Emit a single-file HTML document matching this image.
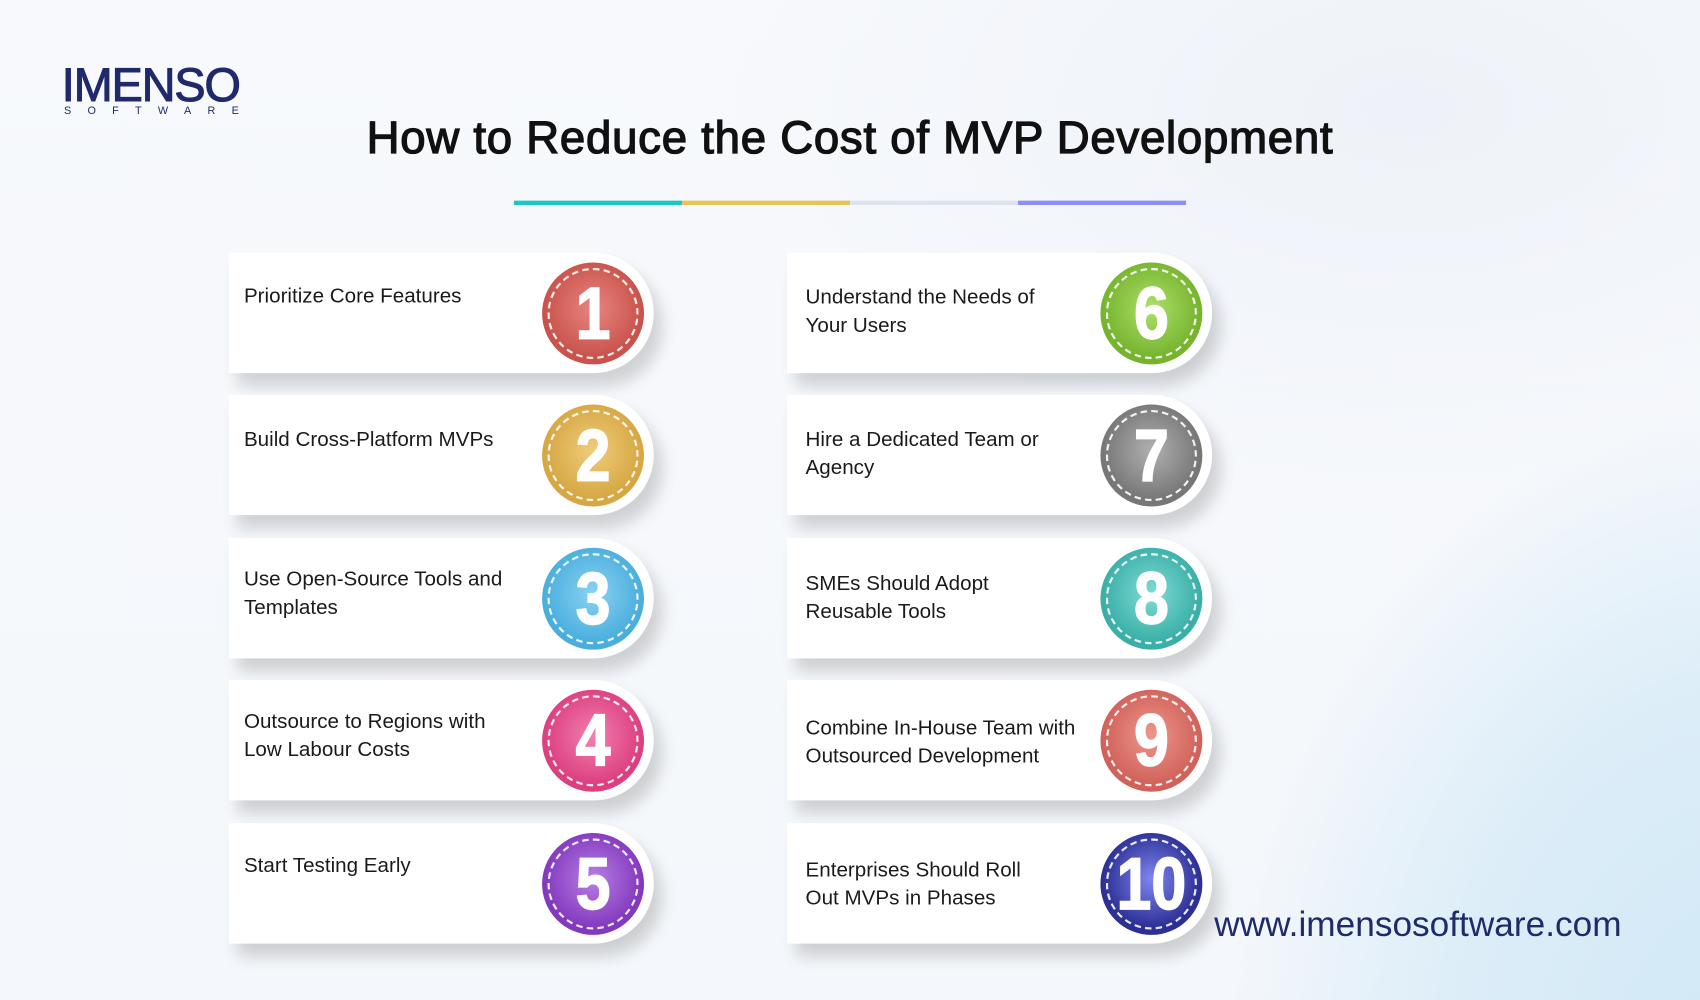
<!DOCTYPE html>
<html><head><meta charset="utf-8"><style>
html,body{margin:0;padding:0;width:1700px;height:1000px;overflow:hidden}
#w{position:absolute;left:0;top:0;width:1568px;height:922px;transform:scale(1.08418,1.08460);transform-origin:0 0;overflow:hidden;
background:
radial-gradient(ellipse 700px 900px at 1620px 1000px,#cfe8f6 0%,#dcedf8 40%,rgba(240,246,252,0) 70%),
radial-gradient(ellipse 900px 500px at 1300px 100px,#eef2f8 0%,rgba(255,255,255,0) 70%),
linear-gradient(180deg,#f7f9fc,#f4f7fb);
font-family:"Liberation Sans",sans-serif}
.logo{position:absolute;left:57px;top:54px;font-size:44px;font-weight:normal;color:#1f2a6b;letter-spacing:-1px;-webkit-text-stroke:1px #1f2a6b;transform:scaleX(0.98);transform-origin:0 0}
.sw{position:absolute;left:59px;top:97px;font-size:10px;color:#1f2a6b;letter-spacing:15px}
h1{position:absolute;left:0;width:1568px;text-align:center;top:103px;margin:0;font-size:42px;font-weight:normal;-webkit-text-stroke:1.2px #111;color:#111;letter-spacing:0.7px}
.bar{position:absolute;top:185px;height:4px;width:155px}
.card{position:absolute;width:392px;height:111px;background:#fff;border-radius:0 56px 56px 0;box-shadow:8px 12px 14px rgba(0,0,0,0.16)}
.t{position:absolute;left:14px;font-size:19px;color:#1a1a1a;line-height:26px}
.c{position:absolute;left:289px;top:9px;width:94px;height:94px;border-radius:50%}
.c::after{content:"";position:absolute;left:5px;top:5px;right:5px;bottom:5px;border:2px dashed rgba(255,255,255,0.9);border-radius:50%}
.n{position:absolute;left:0;top:0;width:94px;height:94px;line-height:94px;text-align:center;color:#fff;font-weight:bold;font-size:68px;font-family:"Liberation Sans Narrow","Liberation Sans",sans-serif;transform:scaleX(0.85);-webkit-text-stroke:1.5px #fff}
.url{position:absolute;left:1120px;top:834px;font-size:32.5px;color:#1f2a6b}
</style></head><body><div id="w">
<div class="logo">IMENSO</div>
<div class="sw">SOFTWARE</div>
<h1>How to Reduce the Cost of MVP Development</h1>
<div class="bar" style="left:474px;background:#1cc7c1"></div>
<div class="bar" style="left:629px;background:#e8c25a"></div>
<div class="bar" style="left:784px;background:#dde3ef"></div>
<div class="bar" style="left:939px;background:#8b8ff0"></div>

<div class="card" style="left:211px;top:233px"><div class="t" style="top:28px">Prioritize Core Features</div><div class="c" style="background:radial-gradient(circle at 50% 45%,#e8857f,#c9534c 65%)"><div class="n">1</div></div></div>
<div class="card" style="left:211px;top:364px"><div class="t" style="top:29px">Build Cross-Platform MVPs</div><div class="c" style="background:radial-gradient(circle at 50% 45%,#f0cc7a,#d6a743 65%)"><div class="n">2</div></div></div>
<div class="card" style="left:211px;top:496px"><div class="t" style="top:26px">Use Open-Source Tools and<br>Templates</div><div class="c" style="background:radial-gradient(circle at 50% 45%,#8ad2f2,#4aaedd 65%)"><div class="n">3</div></div></div>
<div class="card" style="left:211px;top:627px"><div class="t" style="top:26px">Outsource to Regions with<br>Low Labour Costs</div><div class="c" style="background:radial-gradient(circle at 50% 45%,#f27fb0,#dc3f7f 65%)"><div class="n">4</div></div></div>
<div class="card" style="left:211px;top:759px"><div class="t" style="top:27px">Start Testing Early</div><div class="c" style="background:radial-gradient(circle at 50% 45%,#b77fe6,#8339bd 65%)"><div class="n">5</div></div></div>

<div class="card" style="left:726px;top:233px"><div class="t" style="left:17px;top:29px">Understand the Needs of<br>Your Users</div><div class="c" style="background:radial-gradient(circle at 50% 45%,#aee06a,#76b42e 65%)"><div class="n">6</div></div></div>
<div class="card" style="left:726px;top:364px"><div class="t" style="left:17px;top:29px">Hire a Dedicated Team or<br>Agency</div><div class="c" style="background:radial-gradient(circle at 50% 45%,#b0b0b0,#777 65%)"><div class="n">7</div></div></div>
<div class="card" style="left:726px;top:496px"><div class="t" style="left:17px;top:30px">SMEs Should Adopt<br>Reusable Tools</div><div class="c" style="background:radial-gradient(circle at 50% 45%,#7fdcd4,#3aafa8 65%)"><div class="n">8</div></div></div>
<div class="card" style="left:726px;top:627px"><div class="t" style="left:17px;top:32px">Combine In-House Team with<br>Outsourced Development</div><div class="c" style="background:radial-gradient(circle at 50% 45%,#ee968c,#d0625a 65%)"><div class="n">9</div></div></div>
<div class="card" style="left:726px;top:759px"><div class="t" style="left:17px;top:31px">Enterprises Should Roll<br>Out MVPs in Phases</div><div class="c" style="background:radial-gradient(circle at 50% 45%,#7f86f0,#2c2f94 65%)"><div class="n">10</div></div></div>

<div class="url">www.imensosoftware.com</div>
</div></body></html>
